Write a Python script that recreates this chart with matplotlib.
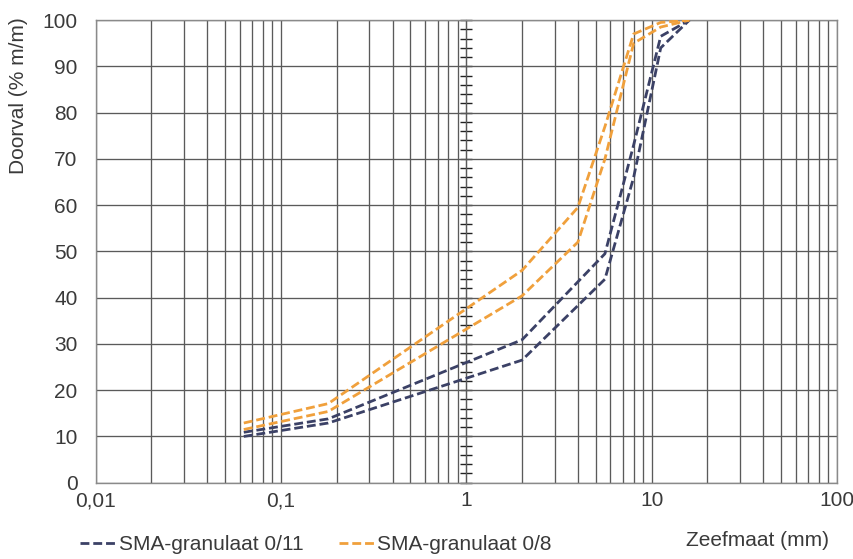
import matplotlib
matplotlib.use("Agg")
import matplotlib.pyplot as plt
from matplotlib.ticker import LogLocator, FixedLocator, FuncFormatter, NullFormatter

plt.rcParams["font.family"] = ["Liberation Sans", "DejaVu Sans"]

# sieve sizes (mm) and passing percentages, two bounds per mix
SIEVE_011 = [0.063, 0.18, 2, 5.6, 8, 11.2, 16]
SMA011_HIGH = [10.9, 13.8, 30.9, 49.5, 73, 96.5, 100]
SMA011_LOW = [10.0, 12.9, 26.5, 44, 66, 94, 100]

SIEVE_08 = [0.063, 0.18, 2, 4, 5.6, 8, 11.2, 16]
SMA08_HIGH = [12.9, 17.1, 45.9, 59.5, 77, 97, 99.5, 100]
SMA08_LOW = [11.5, 15.4, 40.4, 52, 70, 95, 98.5, 100]

X_TICKS = [0.01, 0.1, 1, 10, 100]
Y_TICKS = list(range(0, 101, 10))

NAVY = "#3b4166"
ORANGE = "#f0a03c"
GRID = "#5a5a5a"
TEXT = "#3a3a3a"
FS = 15


def comma_fmt(v, pos):
    return f"{v:g}".replace(".", ",")


def main() -> None:
    fig = plt.figure(figsize=(8.54, 5.59), dpi=100)
    ax = fig.add_axes([0.112, 0.1365, 0.868, 0.8275])

    dash = (3.2, 1.4)
    lw = 2.0
    l1, = ax.plot(SIEVE_011, SMA011_HIGH, color=NAVY, lw=lw, dashes=dash,
                  label="SMA-granulaat 0/11", zorder=3)
    ax.plot(SIEVE_011, SMA011_LOW, color=NAVY, lw=lw, dashes=dash, zorder=3)
    l2, = ax.plot(SIEVE_08, SMA08_HIGH, color=ORANGE, lw=lw, dashes=dash,
                  label="SMA-granulaat 0/8", zorder=3)
    ax.plot(SIEVE_08, SMA08_LOW, color=ORANGE, lw=lw, dashes=dash, zorder=3)

    ax.set_xscale("log")
    ax.set_xlim(0.01, 100)
    ax.set_ylim(0, 100)
    ax.xaxis.set_major_locator(FixedLocator(X_TICKS))
    ax.xaxis.set_major_formatter(FuncFormatter(comma_fmt))
    ax.xaxis.set_minor_locator(LogLocator(base=10, subs=range(2, 10)))
    ax.xaxis.set_minor_formatter(NullFormatter())
    ax.yaxis.set_major_locator(FixedLocator(Y_TICKS))

    ax.grid(True, which="both", axis="x", color=GRID, lw=0.95)
    ax.grid(True, which="major", axis="y", color=GRID, lw=0.95)
    ax.set_axisbelow(True)
    for s in ax.spines.values():
        s.set_color("#8a8a8a")
        s.set_linewidth(1.0)

    ax.tick_params(axis="x", which="both", length=0, pad=6, labelsize=FS, labelcolor=TEXT)
    ax.tick_params(axis="y", which="both", length=0, pad=13, labelsize=FS, labelcolor=TEXT)

    # value axis crosses at x = 1 (middle of the log range)
    sec = ax.secondary_yaxis(0.5)
    sec.set_yticks(list(range(0, 101, 2)))
    sec.set_yticklabels([])
    sec.tick_params(axis="y", direction="inout", length=8, width=1.0, color="#222222")
    sec.spines["left"].set_color("#222222")
    sec.spines["left"].set_linewidth(1.0)

    fig.text(0.022, 1 - 96 / 559, "Doorval (% m/m)", rotation=90, ha="center",
             va="center", fontsize=FS, color=TEXT)
    fig.text(829 / 854, 1 - 540 / 559, "Zeefmaat (mm)", ha="right", va="center",
             fontsize=FS, color=TEXT)

    fig.legend(handles=[l1, l2], loc="center left", bbox_to_anchor=(80 / 854, 1 - 545 / 559),
               ncol=2, frameon=False, fontsize=FS, handlelength=1.75, handletextpad=0.1,
               columnspacing=1.7, labelcolor=TEXT, borderaxespad=0, borderpad=0)

    fig.savefig("out.png", dpi=100)
    plt.close(fig)


if __name__ == "__main__":
    main()
